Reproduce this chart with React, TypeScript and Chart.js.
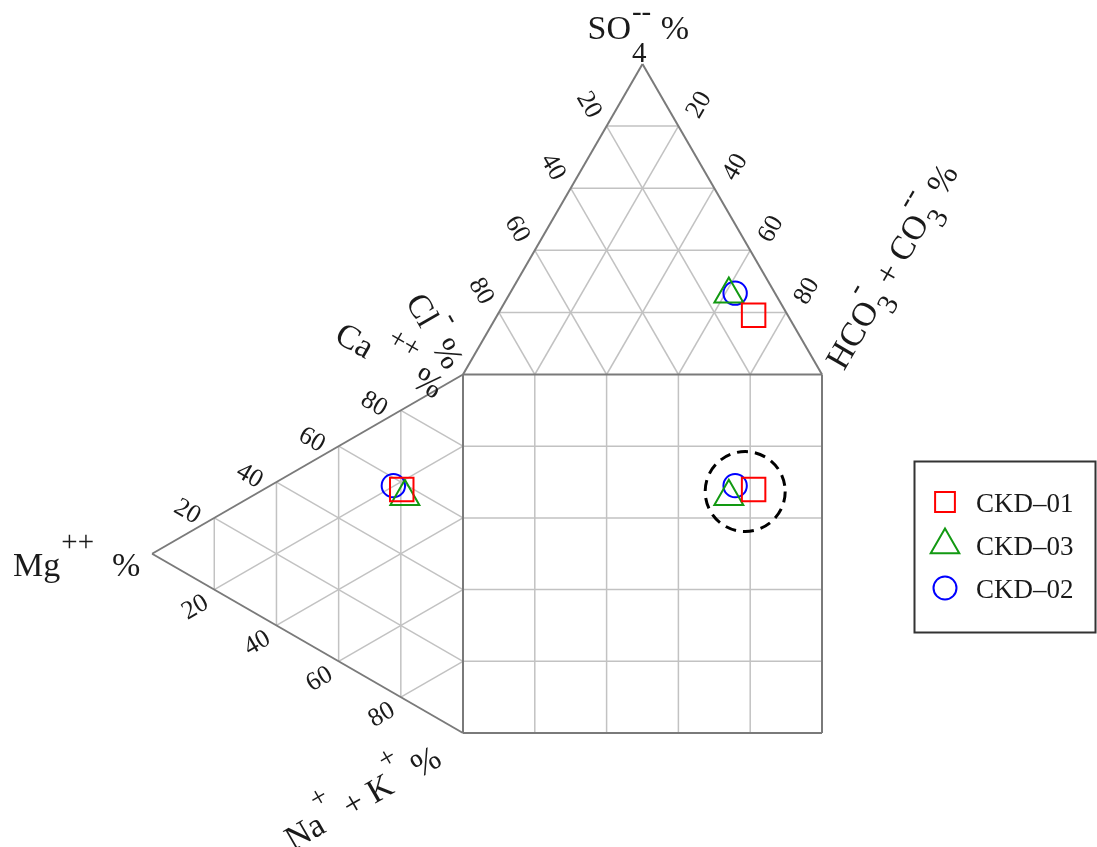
import React, { useEffect, useRef } from 'react';
import { Chart, registerables } from 'chart.js';

Chart.register(...registerables);

// ---- data ----
const SAMPLES = ['CKD–01', 'CKD–03', 'CKD–02'];
// anions (%)
const CL = [9.5, 13.0, 11.1];
const SO4 = [19.1, 25.9, 26.2];
const HCO3 = [71.4, 61.1, 62.7];
// cations (%)
const CA = [58.1, 56.6, 57.8];
const MG = [19.7, 18.7, 22.4];
const NAK = [22.2, 24.7, 19.8];
const TICKS = [20, 40, 60, 80];

// ---- styles ----
const COLORS = ['#ff0000', '#129912', '#0000ff'];
const STYLES = ['rect', 'triangle', 'circle'];
const RADII = [16.6, 16.7, 11.7];
const LEGEND_RADII = [14, 16.5, 11.5];
const OUTLINE = '#7a7a7a';
const GRIDC = '#c2c2c2';
const SERIF = '"Liberation Serif", "Times New Roman", serif';

// ---- geometry (data units: square is 0..100 x 0..100) ----
const H = Math.sqrt(3) / 2;
const topPt = (cl: number, so4: number, hco3: number) => {
  const s = cl + so4 + hco3;
  const a = (so4 / s) * 100, b = (hco3 / s) * 100;
  return { x: b + a / 2, y: 100 + a * H };
};
const leftPt = (ca: number, mg: number, nak: number) => {
  const s = ca + mg + nak;
  const c = (ca / s) * 100, m = (mg / s) * 100;
  return { x: -m * H, y: c + m / 2 };
};

const W = 1097, HGT = 847;
const PX_X = 3.59, PX_Y = 3.585;
const X_MIN = -463 / PX_X, X_MAX = (W - 463) / PX_X;
const Y_MIN = -(HGT - 733) / PX_Y, Y_MAX = 733 / PX_Y;

type Piece = { t?: string; sup?: string; sub?: string };

function drawRich(
  ctx: CanvasRenderingContext2D, pieces: Piece[], x: number, y: number, angleDeg: number, size: number,
  supRaise = 0.72, subDrop = 0.68,
) {
  ctx.save();
  ctx.translate(x, y);
  ctx.rotate((angleDeg * Math.PI) / 180);
  ctx.textAlign = 'left';
  ctx.textBaseline = 'alphabetic';
  ctx.fillStyle = '#1a1a1a';
  const main = `${size}px ${SERIF}`;
  const small = `${Math.round(size * 0.86)}px ${SERIF}`;
  let cx = 0;
  for (const p of pieces) {
    if (p.t !== undefined) {
      ctx.font = main;
      ctx.fillText(p.t, cx, 0);
      cx += ctx.measureText(p.t).width;
    } else {
      ctx.font = small;
      let w = 0;
      if (p.sup) {
        ctx.fillText(p.sup, cx + 1, -size * supRaise);
        w = Math.max(w, ctx.measureText(p.sup).width);
      }
      if (p.sub) {
        ctx.fillText(p.sub, cx + 1, size * subDrop);
        w = Math.max(w, ctx.measureText(p.sub).width);
      }
      cx += w + 2;
    }
  }
  ctx.restore();
}

function drawMarker(ctx: CanvasRenderingContext2D, style: string, x: number, y: number, r: number) {
  ctx.beginPath();
  if (style === 'rect') {
    const s = r * Math.SQRT1_2;
    ctx.rect(x - s, y - s, 2 * s, 2 * s);
  } else if (style === 'triangle') {
    for (let k = 0; k < 3; k++) {
      const a = (k * 2 * Math.PI) / 3;
      const px = x + Math.sin(a) * r, py = y - Math.cos(a) * r;
      if (k === 0) ctx.moveTo(px, py); else ctx.lineTo(px, py);
    }
    ctx.closePath();
  } else {
    ctx.arc(x, y, r, 0, Math.PI * 2);
  }
  ctx.stroke();
}

const durovPlugin = {
  id: 'durov',
  beforeDatasetsDraw(chart: any) {
    const { ctx } = chart;
    const sx = chart.scales.x, sy = chart.scales.y;
    const P = (p: { x: number; y: number }) => [sx.getPixelForValue(p.x), sy.getPixelForValue(p.y)];
    const seg = (a: any, b: any, color: string, w: number) => {
      const [x1, y1] = P(a), [x2, y2] = P(b);
      ctx.beginPath();
      ctx.moveTo(x1, y1);
      ctx.lineTo(x2, y2);
      ctx.strokeStyle = color;
      ctx.lineWidth = w;
      ctx.stroke();
    };
    ctx.save();
    ctx.lineCap = 'butt';
    // grids
    for (const k of TICKS) {
      // square
      seg({ x: k, y: 0 }, { x: k, y: 100 }, GRIDC, 1.5);
      seg({ x: 0, y: k }, { x: 100, y: k }, GRIDC, 1.5);
      // top triangle (Cl, SO4, HCO3)
      seg(topPt(100 - k, k, 0), topPt(0, k, 100 - k), GRIDC, 1.5);
      seg(topPt(100 - k, 0, k), topPt(0, 100 - k, k), GRIDC, 1.5);
      seg(topPt(k, 0, 100 - k), topPt(k, 100 - k, 0), GRIDC, 1.5);
      // left triangle (Ca, Mg, NaK)
      seg(leftPt(100 - k, k, 0), leftPt(0, k, 100 - k), GRIDC, 1.5);
      seg(leftPt(100 - k, 0, k), leftPt(0, 100 - k, k), GRIDC, 1.5);
      seg(leftPt(k, 0, 100 - k), leftPt(k, 100 - k, 0), GRIDC, 1.5);
    }
    // outlines
    const tCl = topPt(100, 0, 0), tSo = topPt(0, 100, 0), tHc = topPt(0, 0, 100);
    const lCa = leftPt(100, 0, 0), lMg = leftPt(0, 100, 0), lNa = leftPt(0, 0, 100);
    seg(tCl, tSo, OUTLINE, 2);
    seg(tSo, tHc, OUTLINE, 2);
    seg(tCl, tHc, OUTLINE, 2);
    seg(lCa, lMg, OUTLINE, 2);
    seg(lMg, lNa, OUTLINE, 2);
    seg({ x: 0, y: 0 }, { x: 0, y: 100 }, OUTLINE, 2);
    seg({ x: 0, y: 0 }, { x: 100, y: 0 }, OUTLINE, 2);
    seg({ x: 100, y: 0 }, { x: 100, y: 100 }, OUTLINE, 2);

    // tick labels
    ctx.fillStyle = '#1a1a1a';
    ctx.font = `26px ${SERIF}`;
    ctx.textAlign = 'center';
    ctx.textBaseline = 'middle';
    const tick = (p: any, dx: number, dy: number, ang: number, txt: string) => {
      const [px, py] = P(p);
      ctx.save();
      ctx.translate(px + dx, py + dy);
      ctx.rotate((ang * Math.PI) / 180);
      ctx.fillText(txt, 0, 0);
      ctx.restore();
    };
    for (const k of TICKS) {
      tick(topPt(k, 100 - k, 0), -18, -21, 60, String(k));
      tick(topPt(0, 100 - k, k), 21, -21, -60, String(k));
      tick(leftPt(k, 100 - k, 0), -27, -6, 30, String(k));
      tick(leftPt(0, 100 - k, k), -19, 18, -30, String(k));
    }

    // axis titles
    const [ax, ay] = P(tSo);
    const [bx, by] = P(tHc);
    const [cx, cy] = P(tCl);
    const [mx, my] = P(lMg);
    const [nx, ny] = P(lNa);
    drawRich(ctx, [{ t: 'SO' }, { sub: '4', sup: '--' }, { t: ' %' }], ax - 55, ay - 25, 0, 34, 0.52, 0.68);
    drawRich(ctx, [{ t: 'HCO' }, { sub: '3', sup: '-' }, { t: ' + CO' }, { sub: '3', sup: '--' }, { t: ' %' }], bx + 22, by - 3, -60, 34, 0.68, 0.4);
    drawRich(ctx, [{ t: 'Cl' }, { sup: '-' }, { t: ' %' }], cx - 58, cy - 73, 60, 34);
    drawRich(ctx, [{ t: 'Ca ' }, { sup: '++' }, { t: ' %' }], cx - 130, cy - 34, 30, 34);
    drawRich(ctx, [{ t: 'Mg' }, { sup: '++' }, { t: '  %' }], mx - 139, my + 22, 0, 34);
    drawRich(ctx, [{ t: 'Na' }, { sup: '+' }, { t: ' + K' }, { sup: '+' }, { t: ' %' }], nx - 170, ny + 118, -30, 34);
    ctx.restore();
  },
  afterDatasetsDraw(chart: any) {
    const { ctx } = chart;
    const sx = chart.scales.x, sy = chart.scales.y;
    ctx.save();
    // dashed highlight around the square-field cluster
    const pts = chart.data.datasets.map((d: any) => d.data[2]);
    const mxv = pts.reduce((s: number, p: any) => s + p.x, 0) / pts.length;
    const myv = pts.reduce((s: number, p: any) => s + p.y, 0) / pts.length;
    ctx.beginPath();
    ctx.setLineDash([11, 7]);
    ctx.lineWidth = 3;
    ctx.strokeStyle = '#000';
    ctx.arc(sx.getPixelForValue(mxv) + 6, sy.getPixelForValue(myv) + 1, 40, 0, Math.PI * 2);
    ctx.stroke();
    ctx.setLineDash([]);

    // legend
    ctx.lineWidth = 2;
    ctx.strokeStyle = '#333';
    ctx.strokeRect(914.5, 461.5, 181, 171);
    ctx.font = `27px ${SERIF}`;
    ctx.textAlign = 'left';
    ctx.textBaseline = 'alphabetic';
    chart.data.datasets.forEach((d: any, i: number) => {
      const yy = 502 + 43 * i;
      ctx.strokeStyle = d.borderColor;
      ctx.lineWidth = 2;
      drawMarker(ctx, d.pointStyle, 945, yy, LEGEND_RADII[i]);
      ctx.fillStyle = '#1a1a1a';
      ctx.fillText(d.label, 976, yy + 10);
    });
    ctx.restore();
  },
};

export default function App() {
  const ref = useRef<HTMLCanvasElement | null>(null);
  useEffect(() => {
    if (!ref.current) return;
    const datasets = SAMPLES.map((name, i) => {
      const t = topPt(CL[i], SO4[i], HCO3[i]);
      const l = leftPt(CA[i], MG[i], NAK[i]);
      return {
        label: name,
        data: [t, l, { x: t.x, y: l.y }],
        pointStyle: STYLES[i],
        pointRadius: RADII[i],
        borderColor: COLORS[i],
        backgroundColor: 'rgba(0,0,0,0)',
        borderWidth: 2,
        pointBorderWidth: 2,
        showLine: false,
      };
    });
    const chart = new Chart(ref.current, {
      type: 'scatter',
      data: { datasets: datasets as any },
      options: {
        responsive: false,
        maintainAspectRatio: false,
        animation: false,
        devicePixelRatio: 1,
        events: [],
        layout: { padding: 0, autoPadding: false },
        plugins: { legend: { display: false }, tooltip: { enabled: false } },
        scales: {
          x: { type: 'linear', display: false, min: X_MIN, max: X_MAX },
          y: { type: 'linear', display: false, min: Y_MIN, max: Y_MAX },
        },
      },
      plugins: [durovPlugin as any],
    });
    return () => chart.destroy();
  }, []);
  return (
    <div style={{ position: 'absolute', left: 0, top: 0, width: W, height: HGT, background: '#fff' }}>
      <canvas ref={ref} width={W} height={HGT} style={{ display: 'block' }} />
    </div>
  );
}
